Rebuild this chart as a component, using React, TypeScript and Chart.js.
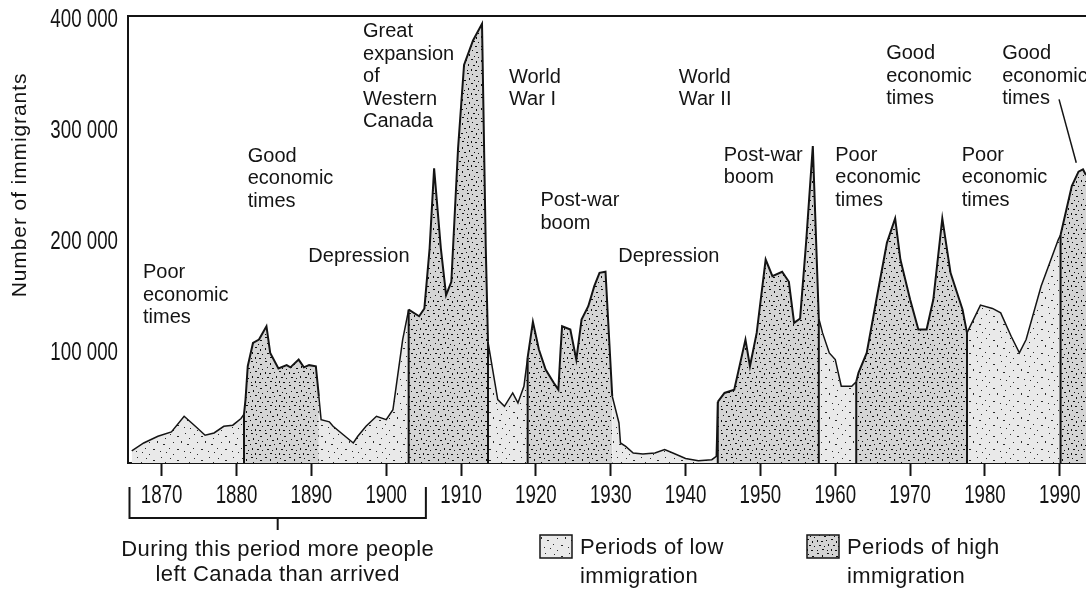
import React, { useEffect, useRef } from "react";
import { Chart, registerables } from "chart.js";

Chart.register(...registerables);

// ---- data (year, number of immigrants) ----
const years = [
  1866, 1867.6, 1869.5, 1871.3, 1873, 1874.5, 1875.8, 1877, 1878.3, 1879.5, 1880.6, 1881,
  1881.2, 1881.5, 1882.2, 1883, 1884, 1884.5, 1885.6, 1886.7, 1887.2, 1888.3, 1889, 1889.7, 1890.6, 1891,
  1891.3, 1892.4, 1892.9, 1895.6, 1896.2, 1897.3, 1898.7, 1900, 1900.9, 1902.2, 1903,
  1904.4, 1905.1, 1905.8, 1906.4, 1907.3, 1908, 1908.7, 1909.6, 1910.4, 1911.6, 1912.8, 1913.3, 1913.6,
  1914.9, 1915.8, 1916.9, 1917.6, 1918.4, 1918.9,
  1919.6, 1920.4, 1921.3, 1922.4, 1923, 1923.3, 1923.5, 1924.6, 1925.4, 1926.1, 1927, 1927.8, 1928.5, 1929.3, 1930.2,
  1931.1, 1931.3, 1932, 1933, 1934.3, 1935.9, 1937.2, 1938.3, 1940, 1941.7, 1943.5, 1944.1, 1944.3,
  1945.2, 1946.5, 1948, 1948.6, 1949.5, 1950.7, 1951.6, 1952.9, 1953.8, 1954.5, 1955.3, 1956.1, 1957, 1957.8,
  1958.3, 1959.2, 1960, 1960.8, 1962.2, 1962.8,
  1963.1, 1964.2, 1965.5, 1966.9, 1968, 1968.7, 1970, 1971.1, 1972.2, 1973.1, 1974.3, 1975.4, 1977, 1977.6,
  1979.4, 1981, 1982.1, 1983.5, 1984.6, 1985.5, 1987.5, 1989.8, 1990.1,
  1991.6, 1992.5, 1993.1, 1993.5,
];

const immigrants = [
  11000, 18000, 24000, 28000, 42000, 33000, 25000, 27000, 33000, 34000, 40000, 44000,
  57000, 87000, 108000, 111000, 123000, 99000, 85000, 88000, 86000, 93000, 86000, 88000, 87000, 60000,
  39000, 37000, 33000, 18000, 24000, 33000, 42000, 39000, 48000, 111000, 138000,
  132000, 139000, 193000, 265000, 193000, 151000, 163000, 283000, 358000, 380000, 395000, 194000, 109000,
  57000, 51000, 63000, 54000, 69000, 95000,
  127000, 102000, 84000, 72000, 66000, 102000, 123000, 120000, 93000, 129000, 141000, 159000, 171000, 172000, 60000,
  36000, 18000, 15000, 9000, 8000, 9000, 12000, 9000, 4000, 2000, 3000, 6000, 55000,
  63000, 66000, 111000, 87000, 117000, 183000, 168000, 172000, 163000, 126000, 130000, 198000, 285000, 130000,
  117000, 99000, 93000, 69000, 69000, 73000,
  81000, 99000, 147000, 198000, 220000, 183000, 147000, 120000, 120000, 147000, 220000, 171000, 138000, 117000,
  142000, 139000, 135000, 114000, 99000, 111000, 159000, 201000, 205000,
  249000, 262000, 264000, 259000,
];

// period boundaries and the kind of each period between them
const periodBreaks = [1881, 1891, 1903, 1913.6, 1918.9, 1930.2, 1944.3, 1957.8, 1962.8, 1977.6, 1990.1];
const periodKinds = ["low", "high", "low", "high", "low", "high", "low", "high", "low", "high", "low", "high"];
const separatorYears = [1881, 1903, 1913.6, 1918.9, 1944.3, 1957.8, 1962.8, 1977.6, 1990.1];

const xTickYears = [1870, 1880, 1890, 1900, 1910, 1920, 1930, 1940, 1950, 1960, 1970, 1980, 1990];
const yTickValues = [100000, 200000, 300000, 400000];

const emigrationSpan = [1865.7, 1905.3];
const emigrationText = ["During this period more people", "left Canada than arrived"];

const legendLabels = [
  ["Periods of low", "immigration"],
  ["Periods of high", "immigration"],
];

const annotationLabels = [
  { lines: ["Poor", "economic", "times"], year: 1867.5, value: 171000 },
  { lines: ["Good", "economic", "times"], year: 1881.5, value: 276000 },
  { lines: ["Depression"], year: 1889.6, value: 186000 },
  { lines: ["Great", "expansion", "of", "Western", "Canada"], year: 1896.9, value: 388000 },
  { lines: ["World", "War I"], year: 1916.4, value: 347000 },
  { lines: ["Post-war", "boom"], year: 1920.6, value: 236000 },
  { lines: ["Depression"], year: 1931.0, value: 186000 },
  { lines: ["World", "War II"], year: 1939.1, value: 347000 },
  { lines: ["Post-war", "boom"], year: 1945.1, value: 277000 },
  { lines: ["Good", "economic", "times"], year: 1966.8, value: 368000 },
  { lines: ["Poor", "economic", "times"], year: 1960.0, value: 277000 },
  { lines: ["Poor", "economic", "times"], year: 1976.9, value: 277000 },
  { lines: ["Good", "economic", "times"], year: 1982.3, value: 368000 },
];
const pointerLine = { from: [1989.9, 327000], to: [1992.2, 270000] };

// ---- styles ----
const INK = "#141414";
const TEXT_FONT = "'Liberation Sans', Arial, sans-serif";

const HIGH_DOTS = [
  [1, 1, 2, 1], [6, 3, 1, 2], [11, 1, 2, 1], [16, 2, 1, 1], [20, 4, 2, 1],
  [3, 7, 1, 1], [8, 8, 2, 1], [13, 6, 1, 2], [18, 8, 1, 1], [22, 9, 1, 1],
  [1, 12, 1, 2], [5, 13, 2, 1], [10, 12, 1, 1], [15, 11, 2, 1], [20, 13, 1, 2],
  [3, 17, 2, 1], [8, 18, 1, 1], [12, 16, 1, 2], [17, 17, 2, 1], [22, 18, 1, 1],
  [1, 22, 1, 1], [6, 21, 2, 1], [11, 22, 1, 1], [15, 21, 1, 2], [19, 22, 2, 1],
];
const LOW_DOTS = [
  [2, 2, 1, 1], [9, 4, 2, 1], [17, 1, 1, 1], [21, 6, 1, 1], [5, 10, 1, 1], [13, 9, 1, 2],
  [19, 12, 2, 1], [1, 16, 1, 1], [9, 17, 2, 1], [16, 19, 1, 1], [22, 20, 1, 1], [5, 22, 1, 1],
];

function makePattern(dots: number[][], bg: string, fg: string) {
  const c = document.createElement("canvas");
  c.width = 24;
  c.height = 24;
  const g = c.getContext("2d")!;
  g.fillStyle = bg;
  g.fillRect(0, 0, 24, 24);
  g.fillStyle = fg;
  dots.forEach(([x, y, w, h]) => g.fillRect(x, y, w, h));
  return g.createPattern(c, "repeat")!;
}

function inKind(year: number, kind: string) {
  for (let p = 0; p < periodKinds.length; p++) {
    const start = p === 0 ? -Infinity : periodBreaks[p - 1];
    const end = p === periodBreaks.length ? Infinity : periodBreaks[p];
    if (periodKinds[p] === kind && year >= start && year <= end) return true;
  }
  return false;
}

function seriesFor(kind: string) {
  return years.map((yr, i) => ({ x: yr, y: inKind(yr, kind) ? immigrants[i] : null }));
}

function spaced(v: number) {
  return String(v).replace(/\B(?=(\d{3})+(?!\d))/g, " ");
}

function condensedText(ctx: CanvasRenderingContext2D, text: string, x: number, y: number, align: CanvasTextAlign) {
  ctx.save();
  ctx.translate(x, y);
  ctx.scale(0.72, 1);
  ctx.textAlign = align;
  ctx.fillText(text, 0, 0);
  ctx.restore();
}

export default function App() {
  const ref = useRef<HTMLCanvasElement>(null);

  useEffect(() => {
    const canvas = ref.current!;
    const highPattern = makePattern(HIGH_DOTS, "#d4d4d4", "#0d0d0d");
    const lowPattern = makePattern(LOW_DOTS, "#e9e9e9", "#2a2a2a");
    const patterns = [lowPattern, highPattern];

    const decorations = {
      id: "decorations",
      beforeDraw(chart: any) {
        const { ctx, width, height } = chart;
        ctx.save();
        ctx.fillStyle = "#fff";
        ctx.fillRect(0, 0, width, height);
        ctx.restore();
      },
      afterDatasetsDraw(chart: any) {
        const { ctx, chartArea } = chart;
        const xs = chart.scales.x;
        const ys = chart.scales.y;
        ctx.save();
        ctx.strokeStyle = INK;
        ctx.lineWidth = 2;
        separatorYears.forEach((yr) => {
          const i = years.indexOf(yr);
          const px = xs.getPixelForValue(yr);
          ctx.beginPath();
          ctx.moveTo(px, ys.getPixelForValue(0));
          ctx.lineTo(px, ys.getPixelForValue(immigrants[i]));
          ctx.stroke();
        });
        // top frame line
        ctx.beginPath();
        ctx.moveTo(chartArea.left - 1, chartArea.top);
        ctx.lineTo(chartArea.right, chartArea.top);
        ctx.stroke();
        ctx.restore();
      },
      afterDraw(chart: any) {
        const { ctx, chartArea } = chart;
        const xs = chart.scales.x;
        const ys = chart.scales.y;
        const base = chartArea.bottom;
        ctx.save();
        ctx.fillStyle = INK;
        ctx.strokeStyle = INK;

        // tick labels (condensed face), placed by the scales
        ctx.font = `26px ${TEXT_FONT}`;
        ctx.textBaseline = "middle";
        xs.ticks.forEach((t: any) => condensedText(ctx, String(t.value), xs.getPixelForValue(t.value), base + 33, "center"));
        ys.ticks.forEach((t: any) =>
          condensedText(ctx, spaced(t.value), chartArea.left - 10, ys.getPixelForValue(t.value) + 1.5, "right")
        );

        // annotations
        ctx.font = `20px ${TEXT_FONT}`;
        ctx.textAlign = "left";
        ctx.textBaseline = "middle";
        annotationLabels.forEach((a) => {
          const x = xs.getPixelForValue(a.year);
          const y = ys.getPixelForValue(a.value);
          a.lines.forEach((l, k) => ctx.fillText(l, x, y + k * 22.5));
        });
        ctx.lineWidth = 1.5;
        ctx.beginPath();
        ctx.moveTo(xs.getPixelForValue(pointerLine.from[0]), ys.getPixelForValue(pointerLine.from[1]));
        ctx.lineTo(xs.getPixelForValue(pointerLine.to[0]), ys.getPixelForValue(pointerLine.to[1]));
        ctx.stroke();

        // y axis title
        ctx.save();
        ctx.translate(20, 185);
        ctx.rotate(-Math.PI / 2);
        ctx.font = `21px ${TEXT_FONT}`;
        (ctx as any).letterSpacing = "0.9px";
        ctx.textAlign = "center";
        ctx.fillText("Number of immigrants", 0, 0);
        ctx.restore();

        // emigration bracket
        const bx0 = xs.getPixelForValue(emigrationSpan[0]);
        const bx1 = xs.getPixelForValue(emigrationSpan[1]);
        const mid = (bx0 + bx1) / 2;
        ctx.lineWidth = 2;
        ctx.beginPath();
        ctx.moveTo(bx0, base + 24);
        ctx.lineTo(bx0, base + 55);
        ctx.lineTo(bx1, base + 55);
        ctx.lineTo(bx1, base + 24);
        ctx.moveTo(mid, base + 55);
        ctx.lineTo(mid, base + 67);
        ctx.stroke();
        ctx.font = `22px ${TEXT_FONT}`;
        (ctx as any).letterSpacing = "0.4px";
        ctx.textAlign = "center";
        emigrationText.forEach((t, k) => ctx.fillText(t, mid, base + 87 + k * 25));

        // legend
        const legendX = [540, 807];
        legendLabels.forEach((lines, k) => {
          const lx = legendX[k];
          ctx.fillStyle = patterns[k];
          ctx.fillRect(lx, 535, 32, 23);
          ctx.lineWidth = 1.5;
          ctx.strokeStyle = INK;
          ctx.strokeRect(lx, 535, 32, 23);
          ctx.fillStyle = INK;
          ctx.textAlign = "left";
          lines.forEach((l, j) => ctx.fillText(l, lx + 40, 548 + j * 29));
        });
        ctx.restore();
      },
    };

    const chart = new Chart(canvas, {
      type: "line",
      data: {
        datasets: [
          {
            label: "Periods of low immigration",
            data: seriesFor("low") as any,
            backgroundColor: lowPattern as any,
            borderColor: INK,
            borderWidth: 1.5,
            fill: "origin",
            spanGaps: false,
            pointRadius: 0,
            tension: 0,
          },
          {
            label: "Periods of high immigration",
            data: seriesFor("high") as any,
            backgroundColor: highPattern as any,
            borderColor: INK,
            borderWidth: 2,
            fill: "origin",
            spanGaps: false,
            pointRadius: 0,
            tension: 0,
          },
        ],
      },
      options: {
        animation: false,
        responsive: false,
        devicePixelRatio: 1,
        layout: { padding: { top: 16, left: 0, right: 0, bottom: 0 } },
        plugins: { legend: { display: false }, tooltip: { enabled: false } },
        scales: {
          x: {
            type: "linear",
            min: 1865.5,
            max: 1993.5,
            afterBuildTicks: (s: any) => {
              s.ticks = xTickYears.map((v) => ({ value: v }));
            },
            afterFit: (s: any) => {
              s.height = 128;
            },
            grid: {
              display: true,
              drawOnChartArea: false,
              drawTicks: true,
              tickLength: 13,
              tickWidth: 2,
              tickColor: INK,
            },
            border: { display: true, color: INK, width: 2 },
            ticks: { display: false },
          },
          y: {
            min: 0,
            max: 402000,
            afterBuildTicks: (s: any) => {
              s.ticks = yTickValues.map((v) => ({ value: v }));
            },
            afterFit: (s: any) => {
              s.width = 128;
            },
            grid: { display: false, drawTicks: false },
            border: { display: true, color: INK, width: 2 },
            ticks: { display: false },
          },
        },
      },
      plugins: [decorations],
    });
    return () => chart.destroy();
  }, []);

  return (
    <div style={{ position: "absolute", left: 0, top: 0, width: 1086, height: 591, background: "#fff" }}>
      <canvas ref={ref} width={1086} height={591} style={{ display: "block" }} />
    </div>
  );
}
